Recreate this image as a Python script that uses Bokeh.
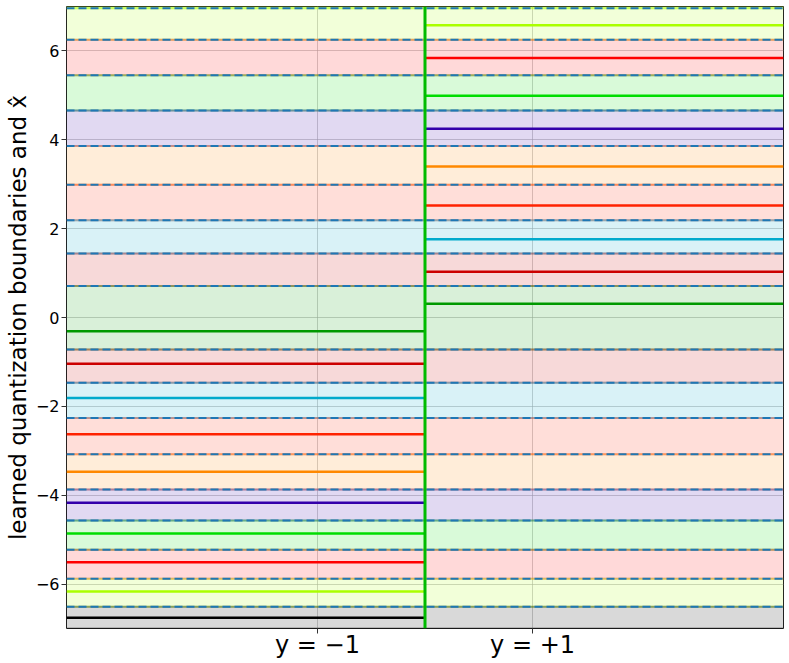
from bokeh.plotting import figure
from bokeh.models import ColumnDataSource, FixedTicker, Range1d
from bokeh.embed import file_html
from bokeh.resources import INLINE

# ---- data ----
y_lo, y_hi = -7.0, 7.0
x_lo, x_hi = 0.0, 1.0
x_split = 0.5
x_ticks = [0.35, 0.65]
x_tick_labels = ["y = \u22121", "y = +1"]
y_ticks = [-6, -4, -2, 0, 2, 4, 6]
y_tick_labels = ["\u22126", "\u22124", "\u22122", "0", "2", "4", "6"]

BLACK = "#000000"
YG = "#aaff00"
RED = "#ff0000"
GREEN = "#00dd00"
INDIGO = "#3300aa"
ORANGE = "#ff8800"
REDOR = "#ff2200"
CYAN = "#00aacc"
DRED = "#cc0000"
DGREEN = "#009900"

boundaries = [-6.51, -5.88, -5.23, -4.57, -3.87, -3.08, -2.26, -1.47, -0.72,
              0.71, 1.44, 2.19, 2.99, 3.86, 4.66, 5.45, 6.25, 6.96]
band_colors = [BLACK, YG, RED, GREEN, INDIGO, ORANGE, REDOR, CYAN, DRED, DGREEN,
               DRED, CYAN, REDOR, ORANGE, INDIGO, GREEN, RED, YG, YG]

levels_neg = [-6.76, -6.17, -5.51, -4.86, -4.17, -3.47, -2.63, -1.81, -1.04, -0.31]
levels_neg_colors = [BLACK, YG, RED, GREEN, INDIGO, ORANGE, REDOR, CYAN, DRED, DGREEN]
levels_pos = [0.31, 1.03, 1.76, 2.52, 3.40, 4.25, 4.99, 5.84, 6.58]
levels_pos_colors = [DGREEN, DRED, CYAN, REDOR, ORANGE, INDIGO, GREEN, RED, YG]

FONT = "DejaVu Sans"

p = figure(frame_width=717, frame_height=622, output_backend="svg", toolbar_location=None,
           x_range=Range1d(x_lo, x_hi), y_range=Range1d(y_lo, y_hi),
           min_border_top=6, min_border_right=6, min_border_left=66, min_border_bottom=35)
p.background_fill_color = "white"
p.border_fill_color = "white"
p.outline_line_color = "#222222"
p.outline_line_width = 1

# bands
bottoms = [y_lo] + boundaries
tops = boundaries + [y_hi]
band_src = ColumnDataSource(dict(left=[x_lo] * len(bottoms), right=[x_hi] * len(bottoms),
                                 bottom=bottoms, top=tops, color=band_colors))
p.quad(left="left", right="right", bottom="bottom", top="top", source=band_src,
       fill_color="color", fill_alpha=0.15, line_color=None)

# band edges (coloured, under dashed)
edge_src = ColumnDataSource(dict(
    x0=[x_lo] * (2 * len(bottoms)), x1=[x_hi] * (2 * len(bottoms)),
    y=bottoms + tops, color=band_colors + band_colors))
p.segment(x0="x0", y0="y", x1="x1", y1="y", source=edge_src,
          line_color="color", line_alpha=0.35, line_width=2)

# dashed boundaries
b_src = ColumnDataSource(dict(x0=[x_lo] * len(boundaries), x1=[x_hi] * len(boundaries), y=boundaries))
p.segment(x0="x0", y0="y", x1="x1", y1="y", source=b_src,
          line_color="#1f77b4", line_width=2, line_dash="8 4")

# levels
neg_src = ColumnDataSource(dict(x0=[x_lo] * len(levels_neg), x1=[x_split] * len(levels_neg),
                                y=levels_neg, color=levels_neg_colors))
p.segment(x0="x0", y0="y", x1="x1", y1="y", source=neg_src, line_color="color", line_width=2.5)
pos_src = ColumnDataSource(dict(x0=[x_split] * len(levels_pos), x1=[x_hi] * len(levels_pos),
                                y=levels_pos, color=levels_pos_colors))
p.segment(x0="x0", y0="y", x1="x1", y1="y", source=pos_src, line_color="color", line_width=2.5)

# split line
p.segment(x0=[x_split], y0=[y_lo], x1=[x_split], y1=[y_hi], line_color="#00bb00", line_width=3)

# axes
p.xaxis.ticker = FixedTicker(ticks=x_ticks)
p.xaxis.major_label_overrides = {t: s for t, s in zip(x_ticks, x_tick_labels)}
p.yaxis.ticker = FixedTicker(ticks=y_ticks)
p.yaxis.major_label_overrides = {t: s for t, s in zip(y_ticks, y_tick_labels)}
for ax in (p.xaxis, p.yaxis):
    ax.axis_line_color = None
    ax.major_tick_in = 0
    ax.major_tick_out = 5
    ax.minor_tick_line_color = None
    ax.major_tick_line_color = "#333333"
    ax.major_label_text_font = FONT
    ax.major_label_text_color = "black"
p.xaxis.major_label_text_font_size = "24px"
p.xaxis.major_label_standoff = -3
p.yaxis.major_label_text_font_size = "16px"
p.yaxis.major_label_standoff = 2
p.yaxis.axis_label = "learned quantization boundaries and x\u0302"
p.yaxis.axis_label_text_font = FONT
p.yaxis.axis_label_text_font_size = "23px"
p.yaxis.axis_label_text_font_style = "normal"
p.yaxis.axis_label_text_color = "black"
p.yaxis.axis_label_standoff = 2

p.xgrid.ticker = FixedTicker(ticks=x_ticks)
p.ygrid.ticker = FixedTicker(ticks=y_ticks)
p.grid.grid_line_color = "#b0b0b0"
p.grid.grid_line_alpha = 0.6
p.grid.grid_line_width = 1

open("out.html", "w").write(file_html(p, INLINE))
